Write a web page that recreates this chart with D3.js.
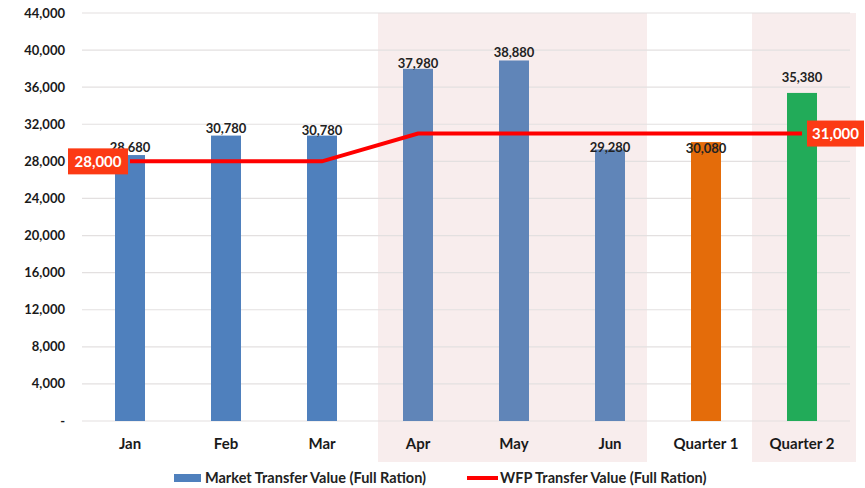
<!DOCTYPE html>
<html>
<head>
<meta charset="utf-8">
<script src="https://cdn.jsdelivr.net/npm/d3@7"></script>
<style>
  body { margin: 0; background: #fff; }
  svg text { font-family: Lato, "Open Sans", sans-serif; }
</style>
</head>
<body>
<div id="chart"></div>
<script>
// chart data
const categories = ["Jan", "Feb", "Mar", "Apr", "May", "Jun", "Quarter 1", "Quarter 2"];
const marketValues = [28680, 30780, 30780, 37980, 38880, 29280, 30080, 35380];
const wfpValues = [28000, 28000, 28000, 31000, 31000, 31000, 31000, 31000];
const yTicks = [0, 4000, 8000, 12000, 16000, 20000, 24000, 28000, 32000, 36000, 40000, 44000];
const seriesNames = ["Market Transfer Value (Full Ration)", "WFP Transfer Value (Full Ration)"];

// styling
const barColors = ["#4f80bd", "#4f80bd", "#4f80bd", "#6085b8", "#6085b8", "#6085b8", "#e46c0a", "#22ab59"];
// label shifts (px from bar top), the original had some labels moved by hand
const labelShift = [-8, -7, -5, -5, -8, -2, 6, -15];

const svgWidth = 865;
const svgHeight = 488;
const margin = { top: 13, right: 15, bottom: 67, left: 82 };
const width = svgWidth - margin.left - margin.right;
const height = svgHeight - margin.top - margin.bottom;

const svg = d3.select("#chart").append("svg")
    .attr("width", svgWidth)
    .attr("height", svgHeight);

const g = svg.append("g")
    .attr("transform", `translate(${margin.left},${margin.top})`);

const xScale = d3.scaleBand()
    .domain(categories)
    .range([0, width]);

const yScale = d3.scaleLinear()
    .domain([0, 44000])
    .range([height, 0]);

const bw = xScale.bandwidth();
const barW = 30;

// shaded backgrounds (Apr-Jun, Quarter 2)
g.append("rect")
    .attr("x", xScale("Apr") + 8)
    .attr("y", 0)
    .attr("width", xScale("Jun") + bw - 11 - (xScale("Apr") + 8))
    .attr("height", height + 41)
    .attr("fill", "#f8eded");

g.append("rect")
    .attr("x", xScale("Quarter 2") - 2)
    .attr("y", 0)
    .attr("width", bw + 8)
    .attr("height", height + 41)
    .attr("fill", "#f8eded");

// gridlines
g.selectAll(".grid")
    .data(yTicks)
    .enter().append("line")
    .attr("x1", 0)
    .attr("x2", width)
    .attr("y1", d => yScale(d))
    .attr("y2", d => yScale(d))
    .attr("stroke", "#e3e0e0")
    .attr("stroke-width", 1.2);

// y labels
g.selectAll(".ylab")
    .data(yTicks)
    .enter().append("text")
    .attr("x", -17)
    .attr("y", d => yScale(d))
    .attr("dy", "0.35em")
    .attr("text-anchor", "end")
    .style("font-size", "13px")
    .style("font-weight", "bold")
    .attr("fill", "#1a1a1a")
    .text(d => d === 0 ? "-" : d3.format(",")(d));

// x labels
g.selectAll(".xlab")
    .data(categories)
    .enter().append("text")
    .attr("x", d => xScale(d) + bw / 2)
    .attr("y", height + 23)
    .attr("dy", "0.35em")
    .attr("text-anchor", "middle")
    .style("font-size", "15px")
    .style("font-weight", "bold")
    .attr("fill", "#1a1a1a")
    .text(d => d);

// bars
g.selectAll(".bar")
    .data(marketValues)
    .enter().append("rect")
    .attr("x", (d, i) => xScale(categories[i]) + bw / 2 - barW / 2)
    .attr("y", d => yScale(d))
    .attr("width", barW)
    .attr("height", d => height - yScale(d))
    .attr("fill", (d, i) => barColors[i]);

// WFP line
const line = d3.line()
    .x((d, i) => xScale(categories[i]) + bw / 2)
    .y(d => yScale(d));

g.append("path")
    .datum(wfpValues)
    .attr("d", line)
    .attr("fill", "none")
    .attr("stroke", "#ff0000")
    .attr("stroke-width", 4);

// bar labels
g.selectAll(".barlab")
    .data(marketValues)
    .enter().append("text")
    .attr("x", (d, i) => xScale(categories[i]) + bw / 2)
    .attr("y", (d, i) => yScale(d) + labelShift[i])
    .attr("dy", "0.35em")
    .attr("text-anchor", "middle")
    .style("font-size", "13px")
    .style("font-weight", "bold")
    .attr("fill", "#222")
    .text(d => d3.format(",")(d));

// end labels of the line
function endLabel(i, side) {
    const cx = xScale(categories[i]) + bw / 2;
    const cy = yScale(wfpValues[i]);
    const w = side === "left" ? 60 : 57;
    const x0 = side === "left" ? cx - w - 2 : cx + 5;
    g.append("rect")
        .attr("x", x0)
        .attr("y", cy - 13)
        .attr("width", w)
        .attr("height", 26)
        .attr("fill", "#fc3a14");
    g.append("text")
        .attr("x", x0 + w / 2)
        .attr("y", cy)
        .attr("dy", "0.35em")
        .attr("text-anchor", "middle")
        .style("font-size", "15px")
        .style("font-weight", "bold")
        .attr("fill", "#fff")
        .text(d3.format(",")(wfpValues[i]));
}
endLabel(0, "left");
endLabel(categories.length - 1, "right");

// legend
const legend = svg.append("g");
legend.append("rect")
    .attr("x", 174)
    .attr("y", 474)
    .attr("width", 27)
    .attr("height", 8)
    .attr("fill", barColors[0]);
legend.append("text")
    .attr("x", 205)
    .attr("y", 478)
    .attr("dy", "0.35em")
    .style("font-size", "14.5px")
    .style("font-weight", "bold")
    .attr("fill", "#222")
    .text(seriesNames[0]);
legend.append("line")
    .attr("x1", 467)
    .attr("x2", 498)
    .attr("y1", 478)
    .attr("y2", 478)
    .attr("stroke", "#ff0000")
    .attr("stroke-width", 4);
legend.append("text")
    .attr("x", 500)
    .attr("y", 478)
    .attr("dy", "0.35em")
    .style("font-size", "14.5px")
    .style("font-weight", "bold")
    .attr("fill", "#222")
    .text(seriesNames[1]);
</script>
</body>
</html>
